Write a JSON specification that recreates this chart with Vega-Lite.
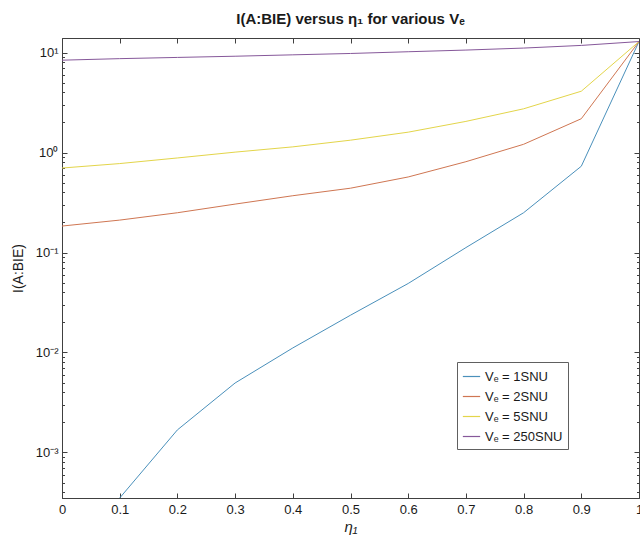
{
  "$schema": "https://vega.github.io/schema/vega-lite/v6.json",
  "width": 577,
  "height": 460,
  "autosize": "none",
  "padding": {"left": 62, "top": 38, "right": 1, "bottom": 43},
  "background": "white",
  "title": {"text": "I(A:BIE) versus η₁ for various Vₑ", "font": "Liberation Sans", "fontSize": 15, "fontWeight": "bold", "color": "#1a1a1a", "offset": 11},
  "config": {
    "view": {"stroke": "#404040", "strokeWidth": 1},
    "axis": {"grid": false, "domainColor": "#404040", "tickColor": "#404040", "labelFont": "Liberation Sans", "labelFontSize": 13, "labelColor": "#1a1a1a", "titleFont": "Liberation Sans", "titleFontWeight": "normal", "titleFontSize": 14, "titleColor": "#1a1a1a"}
  },
  "data": {"values": [
    {"eta": 0.1, "I": 0.00035, "s": "Vₑ = 1SNU"},
    {"eta": 0.2, "I": 0.00168, "s": "Vₑ = 1SNU"},
    {"eta": 0.3, "I": 0.00495, "s": "Vₑ = 1SNU"},
    {"eta": 0.4, "I": 0.0111, "s": "Vₑ = 1SNU"},
    {"eta": 0.5, "I": 0.0236, "s": "Vₑ = 1SNU"},
    {"eta": 0.6, "I": 0.049, "s": "Vₑ = 1SNU"},
    {"eta": 0.7, "I": 0.112, "s": "Vₑ = 1SNU"},
    {"eta": 0.8, "I": 0.25, "s": "Vₑ = 1SNU"},
    {"eta": 0.9, "I": 0.73, "s": "Vₑ = 1SNU"},
    {"eta": 1.0, "I": 12.9, "s": "Vₑ = 1SNU"},
    {"eta": 0.0, "I": 0.184, "s": "Vₑ = 2SNU"},
    {"eta": 0.1, "I": 0.211, "s": "Vₑ = 2SNU"},
    {"eta": 0.2, "I": 0.25, "s": "Vₑ = 2SNU"},
    {"eta": 0.3, "I": 0.305, "s": "Vₑ = 2SNU"},
    {"eta": 0.4, "I": 0.37, "s": "Vₑ = 2SNU"},
    {"eta": 0.5, "I": 0.44, "s": "Vₑ = 2SNU"},
    {"eta": 0.6, "I": 0.57, "s": "Vₑ = 2SNU"},
    {"eta": 0.7, "I": 0.81, "s": "Vₑ = 2SNU"},
    {"eta": 0.8, "I": 1.21, "s": "Vₑ = 2SNU"},
    {"eta": 0.9, "I": 2.18, "s": "Vₑ = 2SNU"},
    {"eta": 1.0, "I": 12.9, "s": "Vₑ = 2SNU"},
    {"eta": 0.0, "I": 0.70, "s": "Vₑ = 5SNU"},
    {"eta": 0.1, "I": 0.776, "s": "Vₑ = 5SNU"},
    {"eta": 0.2, "I": 0.883, "s": "Vₑ = 5SNU"},
    {"eta": 0.3, "I": 1.01, "s": "Vₑ = 5SNU"},
    {"eta": 0.4, "I": 1.14, "s": "Vₑ = 5SNU"},
    {"eta": 0.5, "I": 1.33, "s": "Vₑ = 5SNU"},
    {"eta": 0.6, "I": 1.60, "s": "Vₑ = 5SNU"},
    {"eta": 0.7, "I": 2.05, "s": "Vₑ = 5SNU"},
    {"eta": 0.8, "I": 2.74, "s": "Vₑ = 5SNU"},
    {"eta": 0.9, "I": 4.11, "s": "Vₑ = 5SNU"},
    {"eta": 1.0, "I": 12.9, "s": "Vₑ = 5SNU"},
    {"eta": 0.0, "I": 8.4, "s": "Vₑ = 250SNU"},
    {"eta": 0.1, "I": 8.7, "s": "Vₑ = 250SNU"},
    {"eta": 0.2, "I": 8.95, "s": "Vₑ = 250SNU"},
    {"eta": 0.3, "I": 9.2, "s": "Vₑ = 250SNU"},
    {"eta": 0.4, "I": 9.5, "s": "Vₑ = 250SNU"},
    {"eta": 0.5, "I": 9.8, "s": "Vₑ = 250SNU"},
    {"eta": 0.6, "I": 10.2, "s": "Vₑ = 250SNU"},
    {"eta": 0.7, "I": 10.6, "s": "Vₑ = 250SNU"},
    {"eta": 0.8, "I": 11.1, "s": "Vₑ = 250SNU"},
    {"eta": 0.9, "I": 11.8, "s": "Vₑ = 250SNU"},
    {"eta": 1.0, "I": 12.9, "s": "Vₑ = 250SNU"}
  ]},
  "layer": [
    {
      "mark": {"type": "line", "strokeWidth": 1, "clip": true},
      "encoding": {
        "x": {"field": "eta", "type": "quantitative", "scale": {"domain": [0, 1], "nice": false, "zero": false},
              "axis": {"orient": "bottom", "values": [0,0.1,0.2,0.3,0.4,0.5,0.6,0.7,0.8,0.9,1], "format": "~g", "tickSize": -5, "labelPadding": 10, "title": "η₁", "titleFontStyle": "italic", "titleFontSize": 15, "titlePadding": 3, "labelFlush": false}},
        "y": {"field": "I", "type": "quantitative", "scale": {"type": "log", "domain": [0.00035, 14], "nice": false},
              "axis": {"orient": "left", "values": [0.001, 0.01, 0.1, 1, 10], "tickSize": -5, "labelPadding": 9,
                       "labelExpr": "datum.value >= 9 ? '10¹' : datum.value >= 0.9 ? '10⁰' : datum.value >= 0.09 ? '10⁻¹' : datum.value >= 0.009 ? '10⁻²' : '10⁻³'",
                       "title": "I(A:BIE)", "titlePadding": 10}},
        "color": {"field": "s", "type": "nominal",
                  "scale": {"domain": ["Vₑ = 1SNU", "Vₑ = 2SNU", "Vₑ = 5SNU", "Vₑ = 250SNU"], "range": ["#4a90bb", "#cf7652", "#e3d54a", "#86589a"]},
                  "legend": {"title": null, "orient": "none", "legendX": 395, "legendY": 324, "symbolType": "stroke", "symbolSize": 300, "symbolStrokeWidth": 1.2,
                             "labelFont": "Liberation Sans", "labelFontSize": 13, "labelColor": "#1a1a1a", "strokeColor": "#606060", "fillColor": "white", "padding": 5, "rowPadding": 3}}
      }
    },
    {
      "mark": {"type": "line", "strokeOpacity": 0},
      "encoding": {
        "x": {"field": "eta", "type": "quantitative", "axis": {"orient": "top", "values": [0,0.1,0.2,0.3,0.4,0.5,0.6,0.7,0.8,0.9,1], "tickSize": -5, "labels": false, "title": null, "domain": false}},
        "y": {"field": "I", "type": "quantitative", "axis": {"orient": "right", "values": [0.001, 0.01, 0.1, 1, 10], "tickSize": -5, "labels": false, "title": null, "domain": false}}
      }
    },
    {
      "mark": {"type": "line", "strokeOpacity": 0},
      "encoding": {
        "x": {"field": "eta", "type": "quantitative", "axis": null},
        "y": {"field": "I", "type": "quantitative", "axis": {"orient": "left", "values": [0.0004,0.0005,0.0006,0.0007,0.0008,0.0009,0.002,0.003,0.004,0.005,0.006,0.007,0.008,0.009,0.02,0.03,0.04,0.05,0.06,0.07,0.08,0.09,0.2,0.3,0.4,0.5,0.6,0.7,0.8,0.9,2,3,4,5,6,7,8,9], "tickSize": -2.5, "labels": false, "title": null, "domain": false}}
      }
    },
    {
      "mark": {"type": "line", "strokeOpacity": 0},
      "encoding": {
        "x": {"field": "eta", "type": "quantitative", "axis": null},
        "y": {"field": "I", "type": "quantitative", "axis": {"orient": "right", "values": [0.0004,0.0005,0.0006,0.0007,0.0008,0.0009,0.002,0.003,0.004,0.005,0.006,0.007,0.008,0.009,0.02,0.03,0.04,0.05,0.06,0.07,0.08,0.09,0.2,0.3,0.4,0.5,0.6,0.7,0.8,0.9,2,3,4,5,6,7,8,9], "tickSize": -2.5, "labels": false, "title": null, "domain": false}}
      }
    }
  ],
  "resolve": {"axis": {"x": "independent", "y": "independent"}}
}
